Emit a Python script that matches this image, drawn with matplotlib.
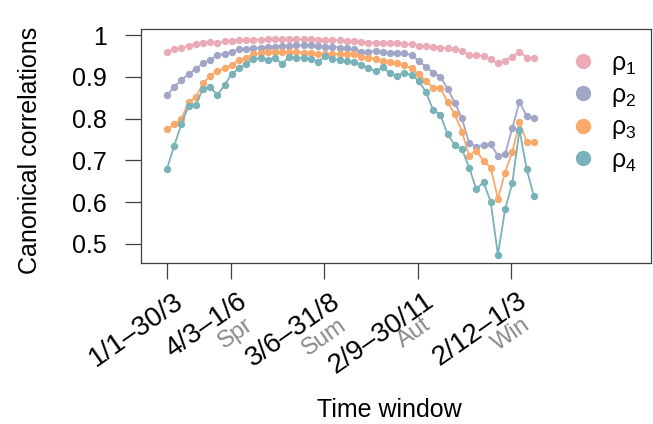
import matplotlib
matplotlib.use('Agg')
import matplotlib.pyplot as plt
from matplotlib.lines import Line2D

plt.rcParams['font.family'] = ['Liberation Sans', 'DejaVu Sans']
plt.rcParams['mathtext.fontset'] = 'custom'
plt.rcParams['mathtext.rm'] = 'Liberation Sans'
plt.rcParams['mathtext.it'] = 'Liberation Sans:italic'

# ---- data ----
window_start_day = list(range(1, 365, 7))  # weekly sliding windows (52)

rho1 = [0.959, 0.966, 0.970, 0.974, 0.978, 0.982, 0.983, 0.980, 0.985, 0.986,
        0.988, 0.988, 0.989, 0.989, 0.990, 0.990, 0.991, 0.991, 0.990, 0.990,
        0.990, 0.989, 0.989, 0.988, 0.987, 0.986, 0.986, 0.984, 0.982, 0.982,
        0.980, 0.980, 0.980, 0.978, 0.978, 0.974, 0.974, 0.972, 0.970, 0.968,
        0.966, 0.962, 0.952, 0.952, 0.950, 0.942, 0.932, 0.939, 0.948, 0.960,
        0.946, 0.946]
rho2 = [0.856, 0.876, 0.892, 0.907, 0.919, 0.932, 0.940, 0.952, 0.955, 0.959,
        0.966, 0.966, 0.968, 0.970, 0.971, 0.972, 0.974, 0.974, 0.975, 0.975,
        0.975, 0.974, 0.972, 0.972, 0.970, 0.968, 0.966, 0.960, 0.960, 0.962,
        0.960, 0.958, 0.958, 0.956, 0.952, 0.938, 0.924, 0.910, 0.900, 0.872,
        0.838, 0.801, 0.741, 0.733, 0.737, 0.739, 0.711, 0.715, 0.777, 0.840,
        0.806, 0.801]
rho3 = [0.774, 0.786, 0.799, 0.840, 0.851, 0.884, 0.902, 0.914, 0.920, 0.928,
        0.940, 0.944, 0.955, 0.956, 0.959, 0.959, 0.959, 0.959, 0.959, 0.958,
        0.956, 0.955, 0.954, 0.954, 0.955, 0.954, 0.954, 0.948, 0.946, 0.943,
        0.939, 0.936, 0.932, 0.928, 0.920, 0.906, 0.890, 0.874, 0.874, 0.840,
        0.810, 0.769, 0.711, 0.723, 0.699, 0.683, 0.608, 0.671, 0.720, 0.791,
        0.744, 0.744]
rho4 = [0.680, 0.735, 0.787, 0.830, 0.833, 0.872, 0.875, 0.857, 0.880, 0.907,
        0.920, 0.931, 0.942, 0.945, 0.941, 0.945, 0.931, 0.948, 0.946, 0.945,
        0.943, 0.935, 0.950, 0.943, 0.941, 0.937, 0.936, 0.928, 0.921, 0.913,
        0.923, 0.908, 0.903, 0.910, 0.904, 0.891, 0.863, 0.821, 0.809, 0.763,
        0.737, 0.727, 0.683, 0.631, 0.648, 0.601, 0.474, 0.583, 0.645, 0.773,
        0.679, 0.615]

series_labels = ['ρ$_1$', 'ρ$_2$', 'ρ$_3$', 'ρ$_4$']
series_colors = ['#EAAAB7', '#A2A6C6', '#F9A96A', '#79B2B8']

tick_days = [1, 63, 154, 245, 336]
tick_labels = ['1/1–30/3', '4/3–1/6', '3/6–31/8', '2/9–30/11', '2/12–1/3']
season_days = [67, 158, 240, 336]
season_labels = ['Spr', 'Sum', 'Aut', 'Win']

yticks = [0.5, 0.6, 0.7, 0.8, 0.9, 1.0]
ytick_labels = ['0.5', '0.6', '0.7', '0.8', '0.9', '1']

# ---- figure ----
W, H = 653, 424
fig = plt.figure(figsize=(W / 100, H / 100), dpi=100)
ax = fig.add_axes([141 / W, 1 - 263 / H, 510 / W, 234 / H])

for vals, col, lab in zip([rho1, rho2, rho3, rho4], series_colors, series_labels):
    ax.plot(window_start_day, vals, color=col, lw=1.3, marker='o', ms=4.3,
            mec=col, mfc=col, label=lab)

ax.set_xlim(-24.3, 472)
ax.set_ylim(0.4545, 1.0144)
ax.set_yticks(yticks)
ax.set_yticklabels(ytick_labels)
ax.set_xticks(tick_days)
ax.set_xticklabels([])
ax.tick_params(axis='both', length=11.5, width=0.9, color='#404040',
               labelsize=18, pad=13)
for sp in ax.spines.values():
    sp.set_color('#404040')
    sp.set_linewidth(0.9)

for d, lab in zip(tick_days, tick_labels):
    ax.annotate(lab, xy=(d, 0), xycoords=('data', 'axes fraction'),
                xytext=(6, -25), textcoords='offset pixels', rotation=35,
                ha='right', va='top', rotation_mode='anchor', fontsize=20,
                annotation_clip=False)
for d, lab in zip(season_days, season_labels):
    ax.annotate(lab, xy=(d, 0), xycoords=('data', 'axes fraction'),
                xytext=(10, -51), textcoords='offset pixels', rotation=35,
                ha='right', va='top', rotation_mode='anchor', fontsize=17,
                color='#8a8a8a', annotation_clip=False)

handles = [Line2D([], [], ls='none', marker='o', ms=10, mfc=c, mec=c)
           for c in series_colors]
ax.legend(handles, series_labels, loc='upper left', bbox_to_anchor=(0.818, 0.96),
          frameon=False, fontsize=18, handlelength=1.0, handletextpad=0.6,
          labelspacing=0.25, borderpad=0)

fig.text(30 / W, 1 - 150 / H, 'Canonical correlations', rotation=90,
         ha='center', va='center', fontsize=18)
fig.text(389 / W, 1 - 410 / H, 'Time window', ha='center', va='center',
         fontsize=18)

fig.savefig('out.png', dpi=100)
